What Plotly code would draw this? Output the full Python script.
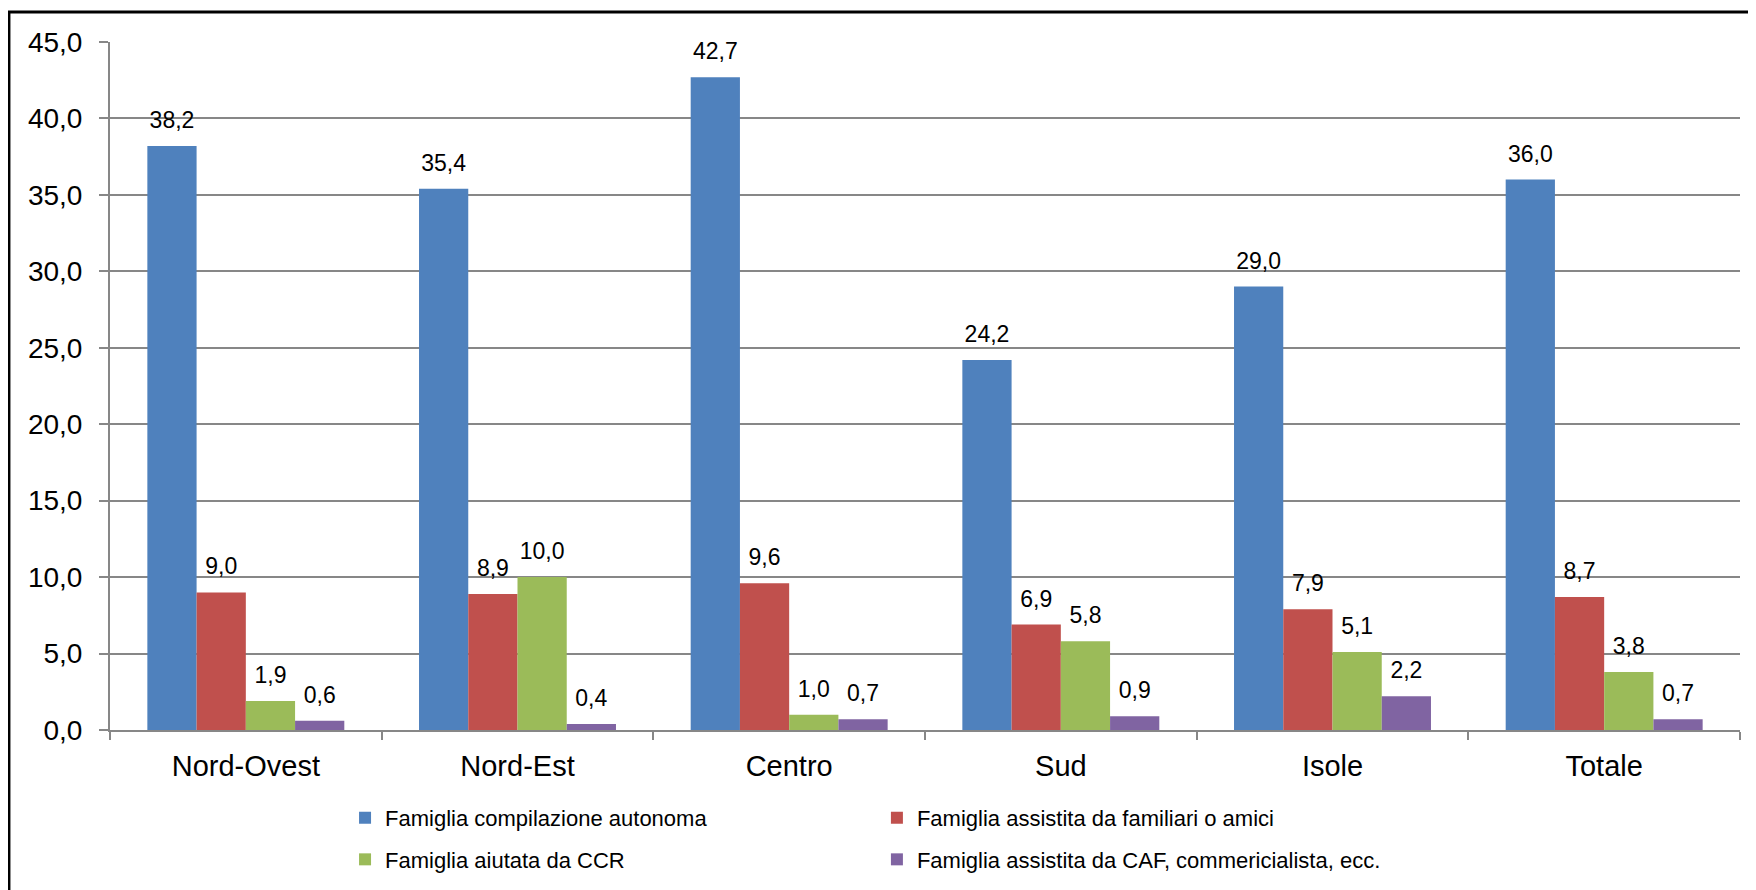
import plotly.graph_objects as go

categories = ["Nord-Ovest", "Nord-Est", "Centro", "Sud", "Isole", "Totale"]
series_names = [
    "Famiglia compilazione autonoma",
    "Famiglia assistita da familiari o amici",
    "Famiglia aiutata da CCR",
    "Famiglia assistita da CAF, commericialista, ecc.",
]
autonoma = [38.2, 35.4, 42.7, 24.2, 29.0, 36.0]
familiari = [9.0, 8.9, 9.6, 6.9, 7.9, 8.7]
ccr = [1.9, 10.0, 1.0, 5.8, 5.1, 3.8]
caf = [0.6, 0.4, 0.7, 0.9, 2.2, 0.7]
y_ticks = [0, 5, 10, 15, 20, 25, 30, 35, 40, 45]

series = [autonoma, familiari, ccr, caf]
colors = ["#4F81BD", "#C0504D", "#9BBB59", "#8064A2"]
legends = ["legend", "legend2", "legend", "legend2"]
label_lift = 0.65  # height (data units) of invisible label carrier bars

def fmt(v):
    return f"{v:.1f}".replace(".", ",")

FONT = "Liberation Sans, Arial"

fig = go.Figure()
for i, (name, vals, col, lg) in enumerate(zip(series_names, series, colors, legends)):
    fig.add_trace(go.Bar(
        x=categories, y=vals, name=name, marker=dict(color=col, line=dict(width=0)),
        offsetgroup=str(i), legend=lg, legendgroup=str(i),
    ))
for i, vals in enumerate(series):
    fig.add_trace(go.Bar(
        x=categories, y=[label_lift] * len(vals), base=vals,
        offsetgroup=str(i), showlegend=False,
        marker=dict(color="rgba(0,0,0,0)", line=dict(width=0)),
        text=[fmt(v) for v in vals], textposition="outside", textangle=0,
        constraintext="none", cliponaxis=False,
        textfont=dict(family=FONT, size=23, color="#000000"),
        hoverinfo="skip",
    ))

fig.update_layout(
    barmode="group", bargap=0.275, bargroupgap=0,
    width=1756, height=890,
    margin=dict(l=102, r=24, t=34, b=168, autoexpand=False),
    paper_bgcolor="white", plot_bgcolor="white",
    font=dict(family=FONT, color="#000000"),
    legend=dict(x=0.1442, y=-0.0973, xanchor="left", yanchor="top",
                orientation="v", tracegroupgap=10, traceorder="grouped",
                font=dict(size=22, family=FONT)),
    legend2=dict(x=0.4705, y=-0.0973, xanchor="left", yanchor="top",
                 orientation="v", tracegroupgap=10, traceorder="grouped",
                 font=dict(size=22, family=FONT)),
    shapes=[dict(type="rect", xref="paper", yref="paper",
                 x0=-0.062, x1=1.03, y0=1.0436, y1=-0.35,
                 line=dict(color="black", width=3), fillcolor="rgba(0,0,0,0)", layer="above")],
)
fig.update_xaxes(
    showline=True, linecolor="#878787", linewidth=2,
    ticks="outside", tickson="boundaries", ticklen=8, tickcolor="#878787", tickwidth=2,
    tickfont=dict(size=29), showgrid=False, ticklabelstandoff=9,
)
fig.update_yaxes(
    range=[0, 45], tickvals=y_ticks, ticktext=[fmt(v) for v in y_ticks],
    showline=True, linecolor="#878787", linewidth=2,
    ticks="outside", ticklen=9, tickcolor="#878787", tickwidth=2,
    showgrid=True, gridcolor="#878787", gridwidth=2,
    tickfont=dict(size=28), ticklabelstandoff=11, zeroline=False,
)

fig.write_html("out.html")
